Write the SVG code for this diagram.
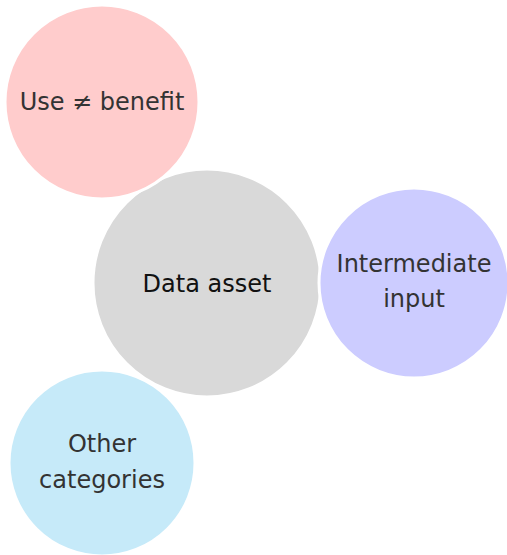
<svg xmlns="http://www.w3.org/2000/svg" width="507" height="555" viewBox="0 0 507 555">
<style>
.c{stroke:#fff;stroke-width:3}
.t{font-family:"DejaVu Sans","Liberation Sans",sans-serif;font-size:24px;fill:#333;text-anchor:middle}
</style>
<rect width="507" height="555" fill="#fff"/>
<g id="connectors"></g>
<g id="other"><circle class="c" cx="102" cy="463" r="93" fill="#C6EAF9"/><text class="t" x="102" y="452">Other</text><text class="t" x="102" y="488">categories</text></g>
<g id="data"><circle class="c" cx="207" cy="283" r="114" fill="#D9D9D9"/><text class="t" x="207" y="292" style="fill:#111">Data asset</text></g>
<g id="use"><circle class="c" cx="102" cy="102" r="97" fill="#FFCCCC"/><text class="t" x="102" y="110">Use ≠ benefit</text></g>
<g id="inter"><circle class="c" cx="414" cy="283" r="95" fill="#CCCCFF"/><text class="t" x="414" y="272">Intermediate</text><text class="t" x="414" y="307">input</text></g>
</svg>
